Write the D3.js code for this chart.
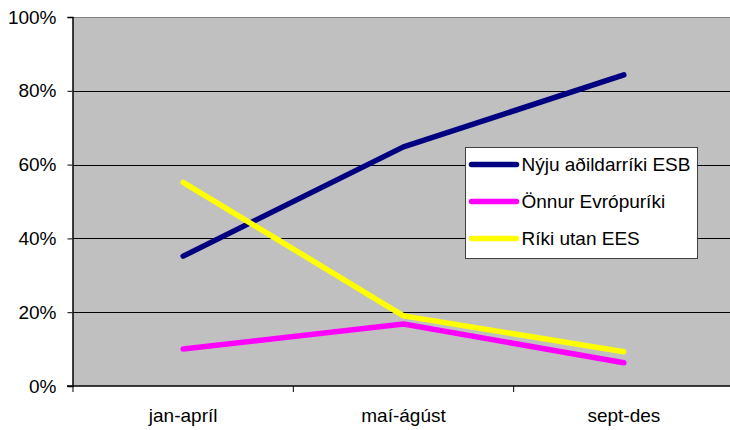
<!DOCTYPE html>
<html>
<head>
<meta charset="utf-8">
<script src="https://cdn.jsdelivr.net/npm/d3@7"></script>
<style>
    body { margin: 0; background: #fff; }
    text { font-family: "Liberation Sans", Arial, sans-serif; fill: #000; }
</style>
</head>
<body>
<div id="graph"></div>
<script>
/*
    Data
*/
var categories = ["jan-apríl", "maí-ágúst", "sept-des"]
var seriesNames = ["Nýju aðildarríki ESB", "Önnur Evrópuríki", "Ríki utan EES"]
var seriesColors = ["#000080", "#ff00ff", "#ffff00"]
var nyjuESB = [0.352, 0.648, 0.843]
var onnurEvropu = [0.10, 0.168, 0.063]
var rikiUtanEES = [0.552, 0.19, 0.093]
var yTicks = [0, 0.2, 0.4, 0.6, 0.8, 1.0]

var series = [nyjuESB, onnurEvropu, rikiUtanEES].map(function (vals, i) {
    return { name: seriesNames[i], color: seriesColors[i], values: vals }
})

/*
    Dimensions
*/
var W = 730, H = 430
var margin = {top: 17, right: -4, bottom: 44, left: 73},
    width = W - margin.left - margin.right,
    height = H - margin.top - margin.bottom

var fontSize = "19px"

var svg = d3.select("#graph").append("svg")
    .attr("width", W)
    .attr("height", H)
  .append("g")
    .attr("transform", "translate(" + margin.left + "," + margin.top + ")")

var x = d3.scaleBand().domain(categories).range([0, width])
var y = d3.scaleLinear().domain([0, 1]).range([height, 0])

// plot background
svg.append("rect")
    .attr("width", width)
    .attr("height", height)
    .attr("fill", "#c0c0c0")

// gridlines
svg.selectAll(".grid")
    .data(yTicks.filter(function (d) { return d > 0 }))
  .enter().append("line")
    .attr("class", "grid")
    .attr("x1", 0).attr("x2", width)
    .attr("y1", function (d) { return Math.round(y(d)) + 0.5 })
    .attr("y2", function (d) { return Math.round(y(d)) + 0.5 })
    .attr("stroke", function (d) { return d === 1 ? "#808080" : "#000" })
    .attr("stroke-width", 1)

// y axis
var yAxis = svg.append("g")
    .attr("transform", "translate(-0.5,0)")
    .call(d3.axisLeft(y).tickValues(yTicks).tickFormat(d3.format(".0%")).tickSize(5).tickPadding(11))
yAxis.select(".domain").attr("stroke", "#000").attr("stroke-width", 1.5)
yAxis.selectAll("text").style("font-size", fontSize)

// x axis, ticks at band boundaries
var xAxis = svg.append("g")
    .attr("transform", "translate(0," + height + ")")
xAxis.append("line")
    .attr("x1", -6).attr("x2", width)
    .attr("stroke", "#000").attr("stroke-width", 1.5)
xAxis.selectAll(".tk")
    .data(categories)
  .enter().append("line")
    .attr("class", "tk")
    .attr("x1", function (d) { return x(d) })
    .attr("x2", function (d) { return x(d) })
    .attr("y1", 0).attr("y2", 6)
    .attr("stroke", "#000")
xAxis.selectAll(".lbl")
    .data(categories)
  .enter().append("text")
    .attr("class", "lbl")
    .attr("x", function (d) { return x(d) + x.bandwidth() / 2 })
    .attr("y", 36)
    .attr("text-anchor", "middle")
    .style("font-size", fontSize)
    .text(function (d) { return d })

// lines
var line = d3.line()
    .x(function (d, i) { return x(categories[i]) + x.bandwidth() / 2 })
    .y(function (d) { return y(d) })

svg.selectAll(".series")
    .data(series)
  .enter().append("path")
    .attr("class", "series")
    .attr("d", function (d) { return line(d.values) })
    .attr("fill", "none")
    .attr("stroke", function (d) { return d.color })
    .attr("stroke-width", 5.5)
    .attr("stroke-linecap", "round")
    .attr("stroke-linejoin", "round")

/*
    Legend
*/
var legend = svg.append("g")
    .attr("transform", "translate(" + (465.5 - margin.left) + "," + (147.5 - margin.top) + ")")

legend.append("rect")
    .attr("width", 232)
    .attr("height", 111)
    .attr("fill", "#fff")
    .attr("stroke", "#404040")
    .attr("stroke-width", 1)

var item = legend.selectAll(".item")
    .data(series)
  .enter().append("g")
    .attr("class", "item")
    .attr("transform", function (d, i) { return "translate(0," + (17 + i * 37) + ")" })

item.append("line")
    .attr("x1", 6).attr("x2", 51)
    .attr("stroke", function (d) { return d.color })
    .attr("stroke-width", 5.5)
    .attr("stroke-linecap", "round")

item.append("text")
    .attr("x", 56)
    .attr("dy", "0.35em")
    .style("font-size", fontSize)
    .text(function (d) { return d.name })
</script>
</body>
</html>
